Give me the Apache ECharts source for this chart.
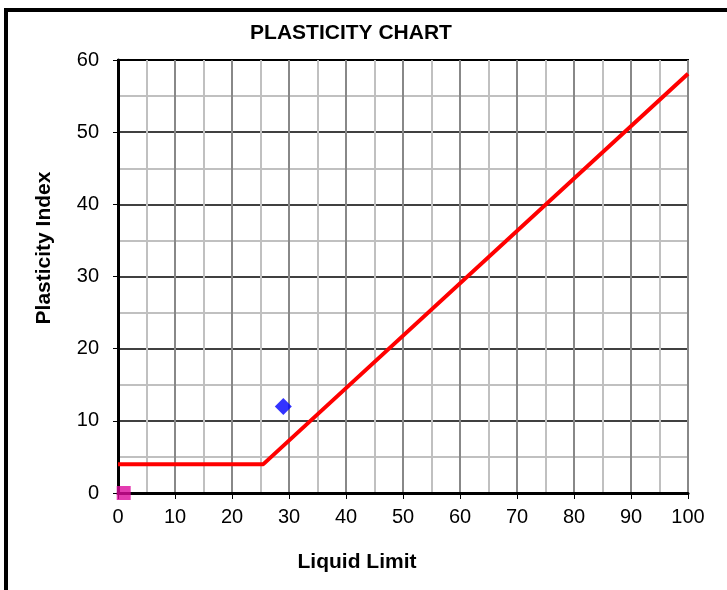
<!DOCTYPE html>
<html><head><meta charset="utf-8">
<script src="https://cdn.jsdelivr.net/npm/echarts@6/dist/echarts.min.js"></script>
<style>html,body{margin:0;padding:0;background:#fff}#c{width:727px;height:590px}</style>
</head><body><div id="c"></div>
<script>
const titleText = 'PLASTICITY CHART';
const xName = 'Liquid Limit';
const yName = 'Plasticity Index';
const aLine = [[0, 4], [25.5, 4], [100, 58.1]];
const samplePoint = [[29, 12]];
const originPoint = [[1, 0]];
const xTicks = [0, 100, 10];
const yTicks = [0, 60, 10];
const FONT = "'Liberation Sans', Arial, sans-serif";
const chart = echarts.init(document.getElementById('c'), null, {renderer: 'canvas'});
chart.setOption({
  animation: false,
  backgroundColor: '#fff',
  graphic: [
    {
      type: 'rect', z: 100,
      shape: {x: 6, y: 10, width: 800, height: 700},
      style: {fill: 'none', stroke: '#000', lineWidth: 4}
    },
    {
      type: 'text', x: 351, y: 33,
      style: {text: titleText, font: "bold 21px 'Liberation Sans', Arial, sans-serif", fill: '#000', align: 'center', verticalAlign: 'middle'}
    },
    {
      type: 'text', x: 357, y: 562,
      style: {text: xName, font: "bold 21px 'Liberation Sans', Arial, sans-serif", fill: '#000', align: 'center', verticalAlign: 'middle'}
    },
    {
      type: 'text', x: 44, y: 248, rotation: Math.PI / 2,
      style: {text: yName, font: "bold 21px 'Liberation Sans', Arial, sans-serif", fill: '#000', align: 'center', verticalAlign: 'middle'}
    }
  ],
  grid: {left: 118, top: 60, width: 570, height: 433, show: true, borderColor: '#000', borderWidth: 2, backgroundColor: 'transparent'},
  xAxis: {
    type: 'value', min: xTicks[0], max: xTicks[1], interval: xTicks[2],
    axisLine: {show: true, onZero: false, lineStyle: {color: '#000', width: 3}},
    axisTick: {show: true, length: 6, lineStyle: {color: '#000', width: 1}},
    axisLabel: {margin: 14, fontFamily: FONT, fontSize: 20, color: '#000'},
    splitLine: {show: true, lineStyle: {color: '#888888', width: 2}},
    minorTick: {show: false, splitNumber: 2},
    minorSplitLine: {show: true, lineStyle: {color: '#c0c0c0', width: 2}}
  },
  yAxis: {
    type: 'value', min: yTicks[0], max: yTicks[1], interval: yTicks[2],
    axisLine: {show: true, onZero: false, lineStyle: {color: '#000', width: 3}},
    axisTick: {show: true, length: 5, lineStyle: {color: '#000', width: 1}},
    axisLabel: {margin: 19, fontFamily: FONT, fontSize: 20, color: '#000'},
    splitLine: {show: true, lineStyle: {color: '#000', width: 1.5}},
    minorTick: {show: false, splitNumber: 2},
    minorSplitLine: {show: true, lineStyle: {color: '#c0c0c0', width: 2}}
  },
  series: [
    {type: 'line', data: aLine, showSymbol: false, symbol: 'none', lineStyle: {color: '#ff0000', width: 4}, z: 3},
    {type: 'scatter', data: samplePoint, symbol: 'diamond', symbolSize: [17, 17], itemStyle: {color: '#0000ff'}, clip: false, z: 4},
    {type: 'scatter', data: originPoint, symbol: 'rect', symbolSize: 14, itemStyle: {color: '#dc0a9c'}, clip: false, z: 4}
  ]
});
</script></body></html>
